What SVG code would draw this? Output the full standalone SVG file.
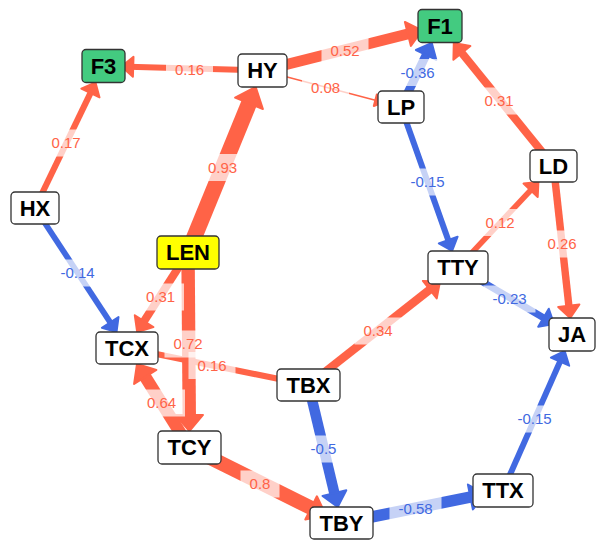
<svg xmlns="http://www.w3.org/2000/svg" width="606" height="540" viewBox="0 0 606 540">
  <style>
    .er { stroke: #FF6347; fill: none; stroke-linecap: butt; }
    .eb { stroke: #4169E1; fill: none; stroke-linecap: butt; }
    .ar { fill: #FF6347; stroke: #FF6347; stroke-width: 2; stroke-linejoin: round; }
    .ab { fill: #4169E1; stroke: #4169E1; stroke-width: 2; stroke-linejoin: round; }
    .lbg { fill: #ffffff; fill-opacity: 0.7; }
    .lt { font-family: "Liberation Sans", Arial, sans-serif; font-size: 15px; text-anchor: middle; }
    .lr { fill: #FF6347; }
    .lb { fill: #4169E1; }
    .node rect { fill: #ffffff; stroke: #333333; stroke-width: 1.3; }
    .node.out rect { fill: #43CB80; }
    .node.src rect { fill: #FFFF00; }
    .node text { font-family: "Liberation Sans", Arial, sans-serif; font-size: 22px; font-weight: bold; text-anchor: middle; fill: #000000; }
  </style>

  <g id="edges">
    <!-- HY -> F3 -->
    <line class="er" stroke-width="6.1" x1="262.5" y1="70.5" x2="128.5" y2="66.7"/>
    <polygon class="ar" points="121.5,66.5 133.5,56.8 132.9,76.8"/>
    <!-- HX -> F3 -->
    <line class="er" stroke-width="6.2" x1="35" y1="208" x2="92.5" y2="88.8"/>
    <polygon class="ar" points="95.5,82.5 99.5,97.4 81.3,88.6"/>
    <!-- LEN -> HY -->
    <line class="er" stroke-width="16" x1="188" y1="252.5" x2="251.7" y2="96.8"/>
    <polygon class="ar" points="255.7,87 262.9,109 235.1,97.6"/>
    <!-- HY -> F1 -->
    <line class="er" stroke-width="10.8" x1="262.5" y1="70.5" x2="413.6" y2="32.6"/>
    <polygon class="ar" points="422,30.5 410.9,46 404.9,22"/>
    <!-- HY -> LP -->
    <line class="er" stroke-width="1.5" x1="262.5" y1="70.5" x2="375.3" y2="100.2"/>
    <polygon class="ar" stroke-width="1" points="383,102.3 373.8,106 376.8,94.4"/>
    <!-- LP -> F1 -->
    <line class="eb" stroke-width="8.7" x1="401" y1="107" x2="428.4" y2="50.1"/>
    <polygon class="ab" points="431.8,43 436.3,59.8 415.9,50"/>
    <!-- LD -> F1 -->
    <line class="er" stroke-width="8" x1="553.5" y1="166" x2="458.6" y2="49"/>
    <polygon class="ar" points="453.8,43 470.4,46 453.4,59.8"/>
    <!-- LP -> TTY -->
    <line class="eb" stroke-width="6" x1="401" y1="107" x2="449.8" y2="244.4"/>
    <polygon class="ab" points="452.1,251 438.8,243.4 457.6,236.7"/>
    <!-- TTY -> LD -->
    <line class="er" stroke-width="5.6" x1="458" y1="267.5" x2="533.7" y2="187"/>
    <polygon class="ar" points="538.4,182 537.7,197 523.5,183.6"/>
    <!-- LD -> JA -->
    <line class="er" stroke-width="7.4" x1="553.5" y1="166" x2="569.4" y2="310.6"/>
    <polygon class="ar" points="570.2,318 558.2,306.9 579.4,304.5"/>
    <!-- TTY -> JA -->
    <line class="eb" stroke-width="7" x1="458" y1="267.5" x2="547.7" y2="320.2"/>
    <polygon class="ab" points="554,323.9 538.2,326.8 548.8,308.7"/>
    <!-- TBX -> TTY -->
    <line class="er" stroke-width="8.4" x1="308.5" y1="385" x2="433.9" y2="286.4"/>
    <polygon class="ar" points="440,281.6 436.7,298.5 422.9,280.9"/>
    <!-- HX -> TCX -->
    <line class="eb" stroke-width="5.8" x1="35" y1="208" x2="112.7" y2="326.2"/>
    <polygon class="ab" points="116.5,332 101.9,327.8 118.5,317"/>
    <!-- LEN -> TCX -->
    <line class="er" stroke-width="8" x1="188" y1="252.5" x2="141.3" y2="325.5"/>
    <polygon class="ar" points="137.2,332 134.8,315.3 153.4,327.1"/>
    <!-- LEN -> TCY -->
    <line class="er" stroke-width="13.4" x1="188" y1="252.5" x2="189.3" y2="421.4"/>
    <polygon class="ar" points="189.4,431 175.5,415.1 203,414.9"/>
    <!-- TCY -> TCX -->
    <line class="er" stroke-width="12.3" x1="189.5" y1="447.5" x2="142" y2="371.8"/>
    <polygon class="ar" points="137,364 156.4,370 134.1,384"/>
    <!-- TBX - TCX -->
    <line class="er" stroke-width="6.1" x1="308.5" y1="385" x2="127" y2="348"/>
    <!-- TCY -> TBY -->
    <line class="er" stroke-width="14.4" x1="189.5" y1="447.5" x2="317.1" y2="510.9"/>
    <polygon class="ar" points="326,515.3 305.3,519.5 316.9,496.3"/>
    <!-- TBX -> TBY -->
    <line class="eb" stroke-width="10.5" x1="308.5" y1="385" x2="335.7" y2="498.7"/>
    <polygon class="ab" points="337.7,507 322.5,495.9 346.3,490.3"/>
    <!-- TBY -> TTX -->
    <line class="eb" stroke-width="11.5" x1="341.5" y1="523" x2="476.2" y2="495.9"/>
    <polygon class="ab" points="485,494.1 472.9,509.5 467.9,484.5"/>
    <!-- TTX -> JA -->
    <line class="eb" stroke-width="6" x1="503" y1="490.5" x2="561.9" y2="357.4"/>
    <polygon class="ab" points="564.7,351 569.2,365.7 550.9,357.6"/>
  </g>

  <g id="edge-labels">
    <rect class="lbg" x="166" y="56" width="47" height="27"/>
    <text class="lt lr" x="189.5" y="74.9">0.16</text>
    <rect class="lbg" x="42.5" y="129.5" width="47" height="27"/>
    <text class="lt lr" x="66" y="148.4">0.17</text>
    <rect class="lbg" x="199" y="154" width="47" height="27"/>
    <text class="lt lr" x="222.5" y="172.9">0.93</text>
    <rect class="lbg" x="321.5" y="37.5" width="47" height="27"/>
    <text class="lt lr" x="345" y="56.4">0.52</text>
    <rect class="lbg" x="302" y="74.5" width="47" height="27"/>
    <text class="lt lr" x="325.5" y="93.4">0.08</text>
    <rect class="lbg" x="391.5" y="59" width="52" height="27"/>
    <text class="lt lb" x="417.5" y="77.9">-0.36</text>
    <rect class="lbg" x="475.5" y="87.5" width="47" height="27"/>
    <text class="lt lr" x="499" y="106.4">0.31</text>
    <rect class="lbg" x="401.5" y="168.5" width="52" height="27"/>
    <text class="lt lb" x="427.5" y="187.4">-0.15</text>
    <rect class="lbg" x="476.5" y="209" width="47" height="27"/>
    <text class="lt lr" x="500" y="227.9">0.12</text>
    <rect class="lbg" x="538.5" y="230.5" width="47" height="27"/>
    <text class="lt lr" x="562" y="249.4">0.26</text>
    <rect class="lbg" x="483.5" y="285.5" width="52" height="27"/>
    <text class="lt lb" x="509.5" y="304.4">-0.23</text>
    <rect class="lbg" x="354.5" y="317.5" width="47" height="27"/>
    <text class="lt lr" x="378" y="336.4">0.34</text>
    <rect class="lbg" x="51.5" y="259.5" width="52" height="27"/>
    <text class="lt lb" x="77.5" y="278.4">-0.14</text>
    <rect class="lbg" x="137" y="283.5" width="47" height="27"/>
    <text class="lt lr" x="160.5" y="302.4">0.31</text>
    <rect class="lbg" x="164.5" y="330.5" width="47" height="27"/>
    <text class="lt lr" x="188" y="349.4">0.72</text>
    <rect class="lbg" x="188.5" y="352" width="47" height="27"/>
    <text class="lt lr" x="212" y="370.9">0.16</text>
    <rect class="lbg" x="138" y="389.5" width="47" height="27"/>
    <text class="lt lr" x="161.5" y="408.4">0.64</text>
    <rect class="lbg" x="240.5" y="470.5" width="39" height="27"/>
    <text class="lt lr" x="260" y="489.4">0.8</text>
    <rect class="lbg" x="301.5" y="435.5" width="44" height="27"/>
    <text class="lt lb" x="323.5" y="454.4">-0.5</text>
    <rect class="lbg" x="389.5" y="495.5" width="52" height="27"/>
    <text class="lt lb" x="415.5" y="514.4">-0.58</text>
    <rect class="lbg" x="508.5" y="405.5" width="52" height="27"/>
    <text class="lt lb" x="534.5" y="424.4">-0.15</text>
  </g>

  <g id="node-F3" class="node out">
    <rect x="82" y="49.5" width="43" height="33" rx="4"/>
    <text x="103.5" y="73.9">F3</text>
  </g>
  <g id="node-HY" class="node">
    <rect x="238" y="54" width="49" height="33" rx="4"/>
    <text x="262.5" y="78.4">HY</text>
  </g>
  <g id="node-F1" class="node out">
    <rect x="418" y="9.5" width="44" height="33" rx="4"/>
    <text x="440" y="33.9">F1</text>
  </g>
  <g id="node-LP" class="node">
    <rect x="378" y="91" width="46" height="32" rx="4"/>
    <text x="401" y="114.9">LP</text>
  </g>
  <g id="node-LD" class="node">
    <rect x="530" y="150" width="47" height="32" rx="4"/>
    <text x="553.5" y="173.9">LD</text>
  </g>
  <g id="node-HX" class="node">
    <rect x="11" y="192" width="48" height="32" rx="4"/>
    <text x="35" y="215.9">HX</text>
  </g>
  <g id="node-LEN" class="node src">
    <rect x="157" y="236" width="62" height="33" rx="4"/>
    <text x="188" y="260.4">LEN</text>
  </g>
  <g id="node-TCX" class="node">
    <rect x="96" y="332" width="62" height="32" rx="4"/>
    <text x="127" y="355.9">TCX</text>
  </g>
  <g id="node-TBX" class="node">
    <rect x="277" y="369" width="63" height="32" rx="4"/>
    <text x="308.5" y="392.9">TBX</text>
  </g>
  <g id="node-TTY" class="node">
    <rect x="428" y="251" width="60" height="33" rx="4"/>
    <text x="458" y="275.4">TTY</text>
  </g>
  <g id="node-JA" class="node">
    <rect x="549" y="318" width="46" height="33" rx="4"/>
    <text x="572" y="342.4">JA</text>
  </g>
  <g id="node-TCY" class="node">
    <rect x="158" y="431" width="63" height="33" rx="4"/>
    <text x="189.5" y="455.4">TCY</text>
  </g>
  <g id="node-TTX" class="node">
    <rect x="473" y="474" width="60" height="33" rx="4"/>
    <text x="503" y="498.4">TTX</text>
  </g>
  <g id="node-TBY" class="node">
    <rect x="310" y="507" width="63" height="32" rx="4"/>
    <text x="341.5" y="530.9">TBY</text>
  </g>
</svg>
